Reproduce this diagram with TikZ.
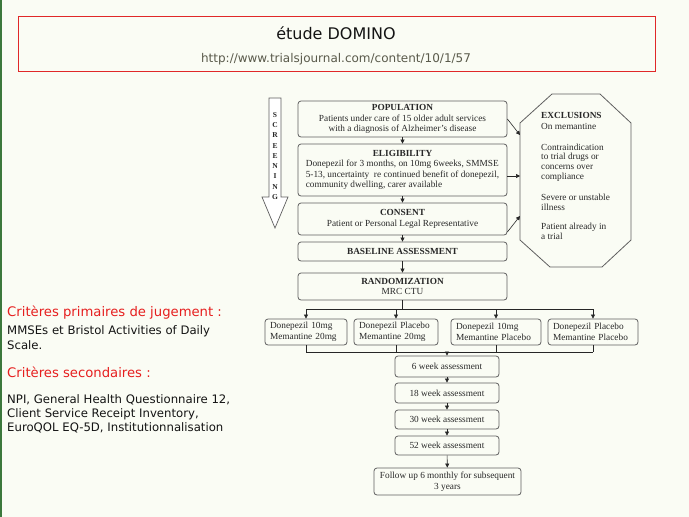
\documentclass[tikz,border=0pt]{standalone}
\usepackage{fontspec}
\setmainfont{Liberation Serif}
\newfontfamily\sansui{DejaVu Sans}
\usetikzlibrary{arrows.meta,calc}
\definecolor{bg}{RGB}{250,252,244}
\definecolor{frame}{RGB}{224,40,40}
\definecolor{ttl}{RGB}{20,20,20}
\definecolor{urlc}{RGB}{90,90,75}
\definecolor{crit}{RGB}{230,30,30}
\definecolor{boxln}{RGB}{95,95,95}
\definecolor{txt}{RGB}{40,40,40}
\definecolor{leftline}{RGB}{60,120,60}
\tikzset{
  box/.style={draw=boxln, line width=0.8pt, rounded corners=3pt, text=txt,
    font=\fontsize{9.3}{10.5}\selectfont, align=center, inner sep=0pt},
  armbox/.style={box, align=left, inner xsep=5pt, minimum height=26pt, anchor=center},
  asbox/.style={box, minimum width=104pt},
  arr/.style={-{Triangle[length=4pt,width=4pt]}, draw=black!85, line width=0.6pt},
  ln/.style={draw=black!85, line width=0.6pt},
  exc/.style={text=txt, font=\fontsize{9.3}{9.8}\selectfont, align=left, inner sep=0pt, anchor=west},
  lefthead/.style={text=crit, font=\sansui\fontsize{13.2}{16}\selectfont, anchor=west, inner sep=0pt},
  leftbody/.style={text=ttl, font=\sansui\fontsize{11.7}{14.5}\selectfont, anchor=west, align=left, inner sep=0pt}
}
\begin{document}
\begin{tikzpicture}[x=1pt,y=-1pt]
\fill[bg] (0,0) rectangle (689,517);
\useasboundingbox (0,0) rectangle (689,517);
\fill[leftline] (0,0) rectangle (2,517);
% title frame
\draw[frame, line width=1pt] (18,16) rectangle (655,71);
\node[text=ttl, font=\sansui\fontsize{16}{20}\selectfont, inner sep=0pt] (title) at (336,33) {étude DOMINO};
\node[text=urlc, font=\sansui\fontsize{12}{15}\selectfont, inner sep=0pt] (url) at (336,59) {http://www.trialsjournal.com/content/10/1/57};
% screening arrow
\draw[boxln, line width=0.7pt, fill=white] (269,98) -- (281,98) -- (281,197) -- (288,197) -- (275,228) -- (262,197) -- (269,197) -- cycle;
\node[text=txt, font=\bfseries\fontsize{7.5}{10.25}\selectfont, align=center, inner sep=0pt] (scr) at (275,156) {S\\C\\R\\E\\E\\N\\I\\N\\G};
% main boxes
\node[box, minimum width=209pt, minimum height=36pt] (pop) at (402.5,119)
  {\textbf{POPULATION}\\Patients under care of 15 older adult services\\with a diagnosis of Alzheimer's disease};
\node[box, minimum width=209pt, minimum height=52pt] (elig) at (402.5,170)
  {\begin{tabular}{@{}l@{}}\multicolumn{1}{@{}c@{}}{\textbf{ELIGIBILITY}}\\
  Donepezil for 3 months, on 10mg 6weeks, SMMSE\\
  5-13, uncertainty\ \ re continued benefit of donepezil,\\
  community dwelling, carer available\end{tabular}};
\node[box, minimum width=209pt, minimum height=32pt] (cons) at (402.5,219)
  {\textbf{CONSENT}\\Patient or Personal Legal Representative};
\node[box, minimum width=209pt, minimum height=19pt] (base) at (402.5,251.5)
  {\textbf{BASELINE ASSESSMENT}};
\node[box, minimum width=209pt, minimum height=27pt] (rand) at (402.5,286.5)
  {\textbf{RANDOMIZATION}\\MRC CTU};
% arms
\node[armbox, minimum width=82pt, text width=72pt] (t1) at (306,332) {Donepezil 10mg\\Memantine 20mg};
\node[armbox, minimum width=84pt, text width=74pt] (t2) at (396,332) {Donepezil Placebo\\Memantine 20mg};
\node[armbox, minimum width=90pt, text width=80pt] (t3) at (496,332) {Donepezil 10mg\\Memantine Placebo};
\node[armbox, minimum width=90pt, text width=80pt] (t4) at (593,332) {Donepezil Placebo\\Memantine Placebo};
% assessments
\node[asbox, minimum height=21pt] (a6) at (447,366.5) {6 week assessment};
\node[asbox, minimum height=20pt] (a18) at (447,393) {18 week assessment};
\node[asbox, minimum height=19pt] (a30) at (447,419.5) {30 week assessment};
\node[asbox, minimum height=19pt] (a52) at (447,445.5) {52 week assessment};
\node[box, minimum width=147pt, minimum height=27pt] (fu) at (447.5,481.5)
  {Follow up 6 monthly for subsequent\\3 years};
% exclusions octagon
\draw[boxln, line width=0.8pt] (552,94) -- (600,94) -- (631,123) -- (631,240) -- (602,267) -- (550,267) -- (520,240) -- (520,123) -- cycle;
\coordinate (ex1) at (520,135);
\coordinate (ex2) at (520,176);
\coordinate (ex3) at (520,216);
\node[exc] (e1) at (541,121) {\textbf{EXCLUSIONS}\\[1.5pt]On memantine};
\node[exc] (e2) at (541,162.5) {Contraindication\\to trial drugs or\\concerns over\\compliance};
\node[exc] (e3) at (541,202) {Severe or unstable\\illness};
\node[exc] (e4) at (541,231) {Patient already in\\a trial};
% arrows
\draw[arr] (pop) -- (elig);
\draw[arr] (elig) -- (cons);
\draw[arr] (cons) -- (base);
\draw[arr] (base) -- (rand);
\draw[arr] (pop.east) -- (ex1);
\draw[arr] (elig.east |- ex2) -- (ex2);
\draw[arr] ($(cons.east)+(0,13)$) -- (ex3);
\coordinate (split) at (402.5,309);
\draw[ln] (rand.south) -- (split);
\draw[ln] (t1.north |- split) -- (t4.north |- split);
\foreach \t in {t1,t2,t3,t4} { \draw[arr] (\t.north |- split) -- (\t.north); }
\coordinate (join) at (447,352);
\foreach \t in {t1,t2,t3,t4} { \draw[ln] (\t.south) -- (\t.south |- join); }
\draw[ln] (t1.south |- join) -- (t4.south |- join);
\draw[arr] (join) -- (a6.north);
\draw[arr] (a6) -- (a18);
\draw[arr] (a18) -- (a30);
\draw[arr] (a30) -- (a52);
\draw[arr] (a52) -- (fu);
% left texts
\node[lefthead] (c1) at (7,313) {Critères primaires de jugement :};
\node[leftbody] (b1) at (7,337.5) {MMSEs et Bristol Activities of Daily\\Scale.};
\node[lefthead] (c2) at (7,372) {Critères secondaires :};
\node[leftbody, font=\sansui\fontsize{11.7}{14}\selectfont] (b2) at (7,414) {NPI, General Health Questionnaire 12,\\Client Service Receipt Inventory,\\EuroQOL EQ-5D, Institutionnalisation};
\end{tikzpicture}
\end{document}
